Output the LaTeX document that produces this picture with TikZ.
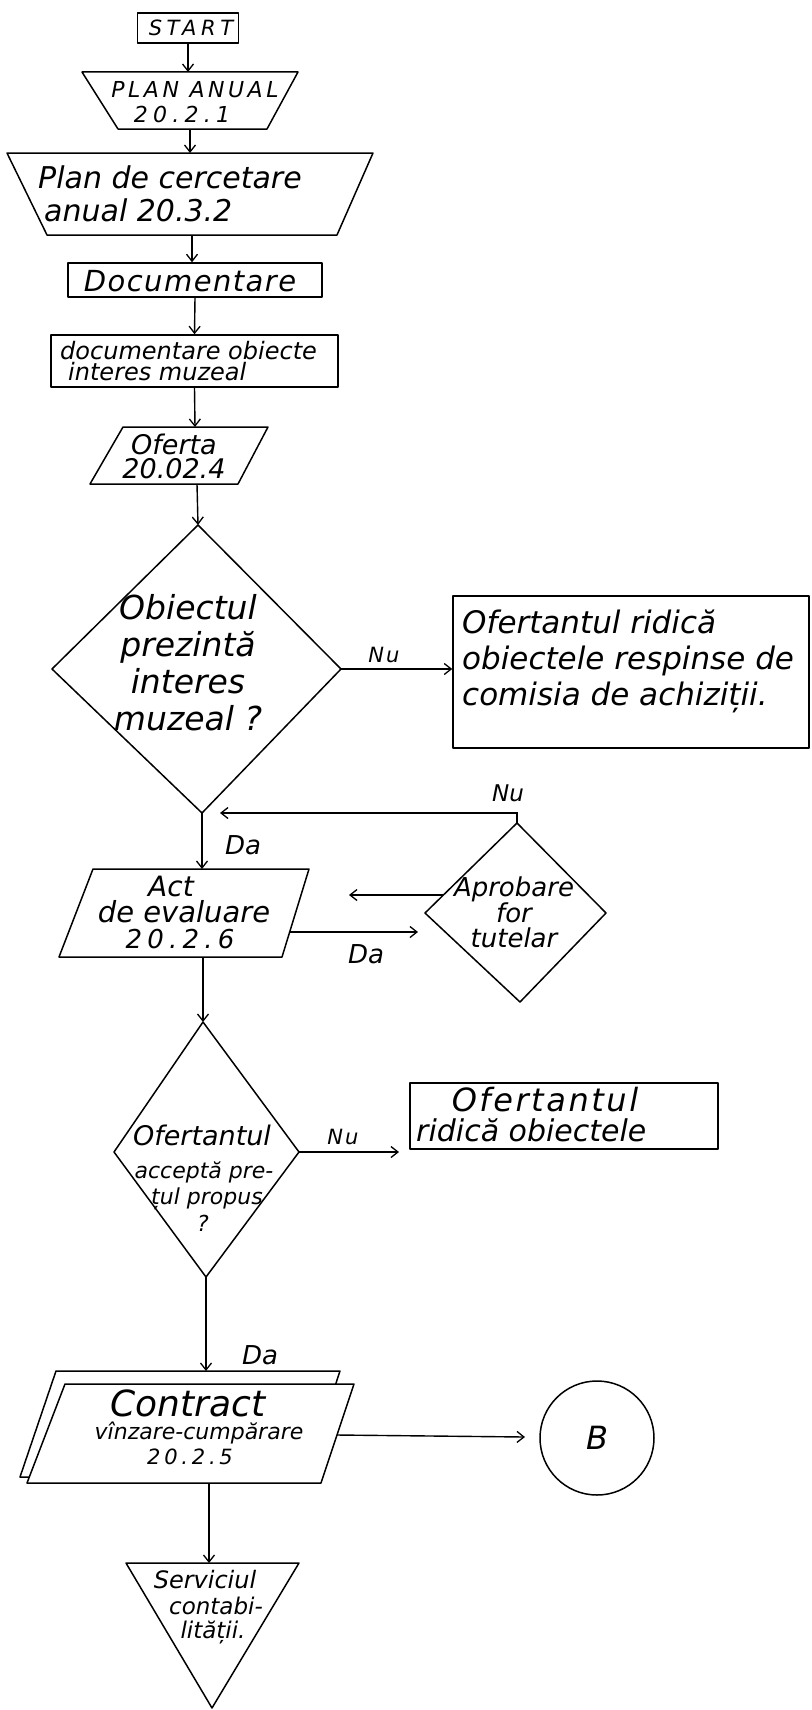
\documentclass[tikz,border=0pt]{standalone}
\usepackage{fontspec}
\setmainfont{DejaVu Sans}
\usetikzlibrary{arrows.meta}
\newcommand\fsz[2]{\fontsize{#1}{#2}\selectfont}
\begin{document}
\begin{tikzpicture}[x=1pt,y=-1pt,
  ln/.style={line width=1.5pt,line join=round},
  arr/.style={line width=1.4pt,-{Straight Barb[length=7pt,width=11pt,line width=1.3pt]}},
  t/.style={inner sep=0pt,align=center,font=\itshape},
  tl/.style={inner sep=0pt,align=left,anchor=west,font=\itshape},
  ]
\useasboundingbox (0,0) rectangle (811,1710);
\fill[white] (0,0) rectangle (811,1710);

% START
\node[draw,ln,minimum width=101pt,minimum height=30pt,inner sep=0pt] (start) at (188,28) {};
\node[t,font=\itshape\fsz{21}{21}\addfontfeature{LetterSpace=22}] (tstart) at (191,28) {START};

% PLAN ANUAL
\draw[ln] (82,72) -- (298,72) -- (267,129) -- (118,129) -- cycle;
\coordinate (plan-n) at (188,72);
\coordinate (plan-s) at (190,129);
\node[t,font=\itshape\fsz{22}{24}\addfontfeature{LetterSpace=16}] (tplan1) at (195,90) {PLAN ANUAL};
\node[t,font=\itshape\fsz{22}{24}\addfontfeature{LetterSpace=24}] (tplan2) at (182,114) {20.2.1};
\draw[arr] (start.south) -- (plan-n);

% Plan de cercetare
\draw[ln] (7,153) -- (373,153) -- (337,235) -- (47,235) -- cycle;
\coordinate (cerc-n) at (190,153);
\coordinate (cerc-s) at (192,235);
\node[tl,font=\itshape\fsz{30}{33}] (tcerc) at (38,194) {Plan de cercetare\\\hspace*{6pt}anual 20.3.2};
\draw[arr] (plan-s) -- (cerc-n);

% Documentare
\node[draw,ln,minimum width=254pt,minimum height=34pt,inner sep=0pt] (doc) at (195,280) {};
\node[t,font=\itshape\fsz{29}{29}\addfontfeature{LetterSpace=5}] (tdoc) at (190,281) {Documentare};
\draw[arr] (cerc-s) -- (cerc-s |- doc.north);

% documentare obiecte
\node[draw,ln,minimum width=287pt,minimum height=52pt,inner sep=0pt] (docobj) at (194.5,361) {};
\node[tl,font=\itshape\fsz{24}{21}] (tdocobj) at (60,361) {documentare obiecte\\\hspace*{8pt}interes muzeal};
\draw[arr] (doc.south) -- (docobj.north);

% Oferta
\draw[ln] (123,427) -- (268,427) -- (238,484) -- (90,484) -- cycle;
\coordinate (of-n) at (195,427);
\coordinate (of-s) at (197,484);
\node[t,font=\itshape\fsz{27}{24}] (tof) at (174,456) {Oferta\\20.02.4};
\draw[arr] (docobj.south) -- (of-n);

% Decision 1
\coordinate (d1-n) at (198,525);
\coordinate (d1-e) at (341,669);
\coordinate (d1-s) at (202,813);
\coordinate (d1-w) at (52,669);
\draw[ln] (d1-n) -- (d1-e) -- (d1-s) -- (d1-w) -- cycle;
\draw[arr] (of-s) -- (d1-n);
\node[t,font=\itshape\fsz{33}{37}] (td1) at (188,663) {Obiectul\\prezintă\\interes\\muzeal ?};

% rejected box
\node[draw,ln,minimum width=356pt,minimum height=152pt,inner sep=0pt] (rej) at (631,672) {};
\node[tl,font=\itshape\fsz{31}{36}] (trej) at (462,661) {Ofertantul ridică\\obiectele respinse de\\comisia de achiziții.};
\draw[arr] (d1-e) -- (rej.west |- d1-e);
\node[t,font=\itshape\fsz{21}{21}\addfontfeature{LetterSpace=10}] (nu1) at (384,655) {Nu};

% Decision 2
\coordinate (d2-n) at (517,823);
\coordinate (d2-e) at (606,913);
\coordinate (d2-s) at (520,1002);
\coordinate (d2-w) at (425,913);
\draw[ln] (d2-n) -- (d2-e) -- (d2-s) -- (d2-w) -- cycle;
\node[t,font=\itshape\fsz{26}{25}] (td2) at (514,912) {Aprobare\\for\\tutelar};
\coordinate (ret) at (517,813);
\coordinate (d1-in) at (220,813);
\draw[arr] (d2-n) -- (ret) -- (d1-in);
\node[t,font=\itshape\fsz{23}{23}] (nu2) at (508,793) {Nu};

% Act de evaluare
\draw[ln] (93,869) -- (309,869) -- (282,957) -- (59,957) -- cycle;
\coordinate (act-n) at (202,869);
\coordinate (act-s) at (203,957);
\coordinate (act-e) at (290,932);
\draw[arr] (d1-s) -- (d1-s |- act-n);
\node[t,font=\itshape\fsz{26}{26}] (da1) at (243,845) {Da};
\node[t,font=\itshape\fsz{28}{28}] (tact1) at (171,886) {Act};
\node[t,font=\itshape\fsz{29}{29}] (tact2) at (184,912) {de evaluare};
\node[t,font=\itshape\fsz{26}{26}\addfontfeature{LetterSpace=20}] (tact3) at (180,939) {20.2.6};
\coordinate (d2-in) at (418,932);
\draw[arr] (act-e) -- (d2-in);
\node[t,font=\itshape\fsz{26}{26}] (da2) at (366,954) {Da};
\coordinate (d2-wl) at (443,895);
\coordinate (act-in) at (349,895);
\draw[arr] (d2-wl) -- (act-in);

% Decision 3
\coordinate (d3-n) at (203,1022);
\coordinate (d3-e) at (299,1152);
\coordinate (d3-s) at (206,1277);
\coordinate (d3-w) at (114,1152);
\draw[ln] (d3-n) -- (d3-e) -- (d3-s) -- (d3-w) -- cycle;
\draw[arr] (act-s) -- (act-s |- d3-n);
\node[t,font=\itshape\fsz{27}{27}] (td3a) at (202,1135) {Ofertantul};
\node[t,font=\itshape\fsz{22}{22}] (td3b) at (204,1172) {acceptă pre-};
\node[t,font=\itshape\fsz{22}{22}] (td3c) at (207,1199) {țul propus};
\node[t,font=\itshape\fsz{22}{22}] (td3d) at (203,1223) {?};

% box 3
\node[draw,ln,minimum width=308pt,minimum height=66pt,inner sep=0pt] (box3) at (564,1116) {};
\node[t,font=\itshape\fsz{32}{32}\addfontfeature{LetterSpace=8}] (tbox3a) at (545,1100) {Ofertantul};
\node[tl,font=\itshape\fsz{30}{30}] (tbox3b) at (416,1130) {ridică obiectele};
\coordinate (box3-in) at (399,1152);
\draw[arr] (d3-e) -- (box3-in);
\node[t,font=\itshape\fsz{21}{21}\addfontfeature{LetterSpace=10}] (nu3) at (343,1137) {Nu};

% Contract
\draw[ln] (56,1371) -- (340,1371) -- (305,1477) -- (20,1477) -- cycle;
\draw[ln,fill=white] (65,1384) -- (354,1384) -- (321,1483) -- (27,1483) -- cycle;
\coordinate (ct-n) at (207,1371);
\coordinate (ct-s) at (209,1483);
\coordinate (ct-e) at (337,1435);
\draw[arr] (d3-s) -- (d3-s |- ct-n);
\node[t,font=\itshape\fsz{26}{26}] (da3) at (260,1355) {Da};
\node[t,font=\itshape\fsz{36}{36}] (tct1) at (188,1403) {Contract};
\node[t,font=\itshape\fsz{22}{22}] (tct2) at (199,1433) {vînzare-cumpărare};
\node[t,font=\itshape\fsz{21}{21}\addfontfeature{LetterSpace=18}] (tct3) at (190,1457) {20.2.5};

% Connector B
\node[draw,ln,circle,minimum size=114pt,inner sep=0pt] (B) at (597,1438) {};
\node[t,font=\itshape\fsz{32}{32}] (tB) at (B) {B};
\coordinate (B-in) at (525,1437);
\draw[arr] (ct-e) -- (B-in);

% Serviciul contabilitatii (triangle)
\draw[ln] (126,1563) -- (299,1563) -- (212,1708) -- cycle;
\coordinate (tri-n) at (209,1563);
\draw[arr] (ct-s) -- (ct-s |- tri-n);
\node[t,font=\itshape\fsz{24}{24}] (ttri1) at (205,1580) {Serviciul};
\node[t,font=\itshape\fsz{23}{23}] (ttri2) at (216,1606) {contabi-};
\node[t,font=\itshape\fsz{23}{23}] (ttri3) at (213,1632) {lității.};
\end{tikzpicture}
\end{document}
